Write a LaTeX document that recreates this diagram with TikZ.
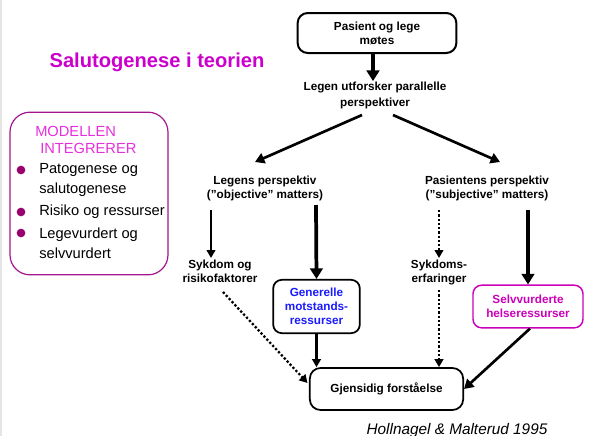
\documentclass[tikz,border=0pt]{standalone}
\usepackage{fontspec}
\setmainfont{Liberation Sans}
\usetikzlibrary{arrows.meta,positioning,calc}
\definecolor{titlemagenta}{HTML}{CC00CC}
\definecolor{modelpink}{HTML}{E62EDC}
\definecolor{boxpurple}{HTML}{A3168F}
\definecolor{bulletplum}{HTML}{99006E}
\definecolor{resblue}{HTML}{1A1AFF}
\definecolor{selfmagenta}{HTML}{CC00B8}

\begin{document}
\begin{tikzpicture}[x=0.75pt, y=-0.75pt,
  lbl/.style={font=\fontsize{8.8}{10.5}\selectfont\bfseries, align=center, inner sep=0pt},
  boks/.style={draw, line width=1.3pt, rounded corners=6.5pt, lbl},
  tykk/.style={line width=2.8pt, -{Triangle[width=9.5pt,length=8pt]}},
  middels/.style={line width=2pt, -{Triangle[width=8pt,length=7pt]}},
  tynn/.style={line width=1.7pt, -{Triangle[width=6.5pt,length=6pt]}},
  prikk/.style={tynn, dash pattern=on 1.7pt off 1.5pt},
  punkt/.style={circle, fill=bulletplum, inner sep=0pt, minimum size=6.5pt},
  liste/.style={font=\fontsize{11}{15}\selectfont, align=left, anchor=west, inner sep=0pt}]
\useasboundingbox (0,0) rectangle (601,436);
\draw[gray!20, line width=0.8pt] (1,0) -- (1,436);

% tittel og venstre boks
\node[text=titlemagenta, font=\fontsize{15.1}{18}\selectfont\bfseries] (tittel) at (157,62) {Salutogenese i teorien};
\node[draw=boxpurple, line width=0.9pt, rounded corners=15pt, minimum width=118.5pt, minimum height=122pt] (modell) at (89,193.5) {};
\node[liste, text=modelpink] (mod1) at (35,131) {MODELLEN};
\node[liste, text=modelpink] (mod2) at (40,148) {INTEGRERER};
\node[punkt] (p1) at (21,170) {};
\node[punkt] (p2) at (21,212) {};
\node[punkt] (p3) at (21,233) {};
\node[liste] (l1) at (39,180) {Patogenese og\\salutogenese};
\node[liste] (l2) at (39,212) {Risiko og ressurser};
\node[liste] (l3) at (39,243) {Legevurdert og\\selvvurdert};

% flytskjema
\node[boks, minimum width=119pt, minimum height=30pt, rounded corners=7.5pt, line width=1.5pt] (top) at (377,33) {Pasient og lege\\møtes};
\node[lbl, font=\fontsize{8.8}{11.5}\selectfont\bfseries] (legen) at (375,95.5) {Legen utforsker parallelle\\perspektiver};
\node[lbl] (legpersp) at (265,188) {Legens perspektiv\\(”objective” matters)};
\node[lbl] (paspersp) at (487,188) {Pasientens perspektiv\\(”subjective” matters)};
\node[lbl] (sykdom) at (220,271) {Sykdom og\\risikofaktorer};
\node[lbl] (sykerf) at (439,272) {Sykdoms-\\erfaringer};
\node[boks, text=resblue, minimum width=65pt, minimum height=40pt] (gen) at (316.5,306.5) {Generelle\\motstands-\\ressurser};
\node[boks, draw=selfmagenta, text=selfmagenta, line width=1.1pt, minimum width=82.5pt, minimum height=32pt] (selv) at (528,306.5) {Selvvurderte\\helseressurser};
\node[boks, minimum width=115pt, minimum height=31.5pt, rounded corners=8pt] (gjen) at (386.5,389) {Gjensidig forståelse};
\node[font=\fontsize{11.5}{14}\selectfont\itshape, anchor=base, inner sep=0pt] (kilde) at (457,434) {Hollnagel \& Malterud 1995};

\draw[tykk] ([shift={(-4,0)}]top.south) -- ([shift={(-2,-1)}]legen.north);
\draw[middels] ([shift={(-13,19.5)}]legen.center) -- ([shift={(-10,-26)}]legpersp.center);
\draw[middels] ([shift={(18,19.5)}]legen.center) -- ([shift={(13,-26)}]paspersp.center);
\draw[tynn] ([shift={(-54,22)}]legpersp.center) -- ([shift={(-9,-13)}]sykdom.center);
\draw[tykk] ([shift={(51,17)}]legpersp.center) -- (gen.north);
\draw[prikk] ([shift={(3,21)}]sykdom.center) -- ([shift={(-79,-6)}]gjen.center);
\draw[tynn] (gen.south) -- (gen.south |- gjen.north);
\draw[prikk] ([shift={(-48,22)}]paspersp.center) -- ([shift={(0,-14)}]sykerf.center);
\draw[prikk] ([shift={(0,18)}]sykerf.center) -- (sykerf.center |- gjen.north);
\draw[tykk] ([shift={(41,22)}]paspersp.center) -- (selv.north);
\draw[middels] ([shift={(2,0)}]selv.south) -- (gjen.east);
\end{tikzpicture}
\end{document}
